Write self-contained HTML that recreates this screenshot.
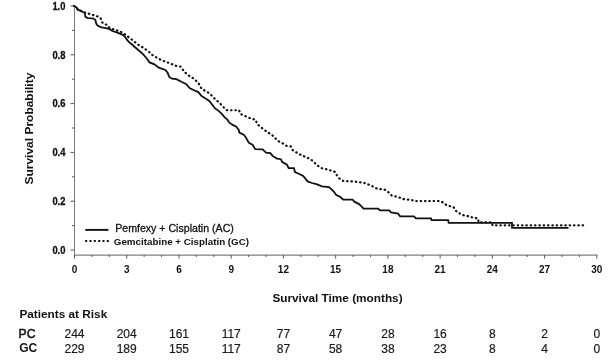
<!DOCTYPE html>
<html><head><meta charset="utf-8"><style>
html,body{margin:0;padding:0;background:#fff;width:614px;height:363px;overflow:hidden}
svg{display:block;will-change:transform;font-family:"Liberation Sans",sans-serif}
</style></head><body>
<svg width="614" height="363" viewBox="0 0 614 363">
<g stroke="#5a5a5a" stroke-width="1" fill="none">
<line x1="74.5" y1="6" x2="74.5" y2="258" stroke="#7a7a7a"/>
<line x1="74" y1="255.1" x2="597.5" y2="255.1" stroke="#606060"/>
<line x1="70.5" y1="250.00" x2="74.5" y2="250.00"/><line x1="72.0" y1="225.60" x2="74.5" y2="225.60"/><line x1="70.5" y1="201.20" x2="74.5" y2="201.20"/><line x1="72.0" y1="176.80" x2="74.5" y2="176.80"/><line x1="70.5" y1="152.40" x2="74.5" y2="152.40"/><line x1="72.0" y1="128.00" x2="74.5" y2="128.00"/><line x1="70.5" y1="103.60" x2="74.5" y2="103.60"/><line x1="72.0" y1="79.20" x2="74.5" y2="79.20"/><line x1="70.5" y1="54.80" x2="74.5" y2="54.80"/><line x1="72.0" y1="30.40" x2="74.5" y2="30.40"/><line x1="70.5" y1="6.00" x2="74.5" y2="6.00"/><line x1="74.50" y1="255" x2="74.50" y2="258.6"/><line x1="91.91" y1="255" x2="91.91" y2="257"/><line x1="109.32" y1="255" x2="109.32" y2="257"/><line x1="126.73" y1="255" x2="126.73" y2="258.6"/><line x1="144.14" y1="255" x2="144.14" y2="257"/><line x1="161.55" y1="255" x2="161.55" y2="257"/><line x1="178.96" y1="255" x2="178.96" y2="258.6"/><line x1="196.37" y1="255" x2="196.37" y2="257"/><line x1="213.78" y1="255" x2="213.78" y2="257"/><line x1="231.19" y1="255" x2="231.19" y2="258.6"/><line x1="248.60" y1="255" x2="248.60" y2="257"/><line x1="266.01" y1="255" x2="266.01" y2="257"/><line x1="283.42" y1="255" x2="283.42" y2="258.6"/><line x1="300.83" y1="255" x2="300.83" y2="257"/><line x1="318.24" y1="255" x2="318.24" y2="257"/><line x1="335.65" y1="255" x2="335.65" y2="258.6"/><line x1="353.06" y1="255" x2="353.06" y2="257"/><line x1="370.47" y1="255" x2="370.47" y2="257"/><line x1="387.88" y1="255" x2="387.88" y2="258.6"/><line x1="405.29" y1="255" x2="405.29" y2="257"/><line x1="422.70" y1="255" x2="422.70" y2="257"/><line x1="440.11" y1="255" x2="440.11" y2="258.6"/><line x1="457.52" y1="255" x2="457.52" y2="257"/><line x1="474.93" y1="255" x2="474.93" y2="257"/><line x1="492.34" y1="255" x2="492.34" y2="258.6"/><line x1="509.75" y1="255" x2="509.75" y2="257"/><line x1="527.16" y1="255" x2="527.16" y2="257"/><line x1="544.57" y1="255" x2="544.57" y2="258.6"/><line x1="561.98" y1="255" x2="561.98" y2="257"/><line x1="579.39" y1="255" x2="579.39" y2="257"/><line x1="596.80" y1="255" x2="596.80" y2="258.6"/>
</g>
<g fill="none" stroke="#111" stroke-linejoin="miter">
<path d="M74.0,5.9 L76.5,7.4 L77.9,9.9 L79.9,10.4 L82.9,11.9 L84.9,13.4 L85.4,16.8 L87.9,18.1 L92.8,18.3 L95.3,19.8 L96.3,23.8 L97.8,25.8 L101.7,27.3 L105.7,28.2 L109.7,29.2 L112.4,31.0 L115.9,32.1 L119.3,33.4 L122.7,34.8 L124.8,36.5 L126.2,38.6 L128.9,42.0 L132.4,44.8 L134.2,46.5 L138.6,50.3 L143.0,54.2 L146.3,58.0 L149.6,62.4 L154.4,64.4 L158.8,67.7 L165.4,69.9 L167.6,72.6 L169.3,77.0 L172.0,78.7 L176.4,79.2 L181.9,82.0 L186.3,84.2 L189.6,88.0 L194.0,90.2 L198.3,92.1 L201.6,96.0 L206.0,98.7 L209.3,100.9 L211.5,103.7 L214.8,108.1 L219.2,111.4 L222.0,114.1 L224.7,117.4 L227.2,119.4 L229.4,122.7 L232.7,124.9 L236.0,126.5 L238.8,129.8 L239.3,132.6 L243.7,134.8 L245.9,137.5 L248.1,141.4 L249.2,143.0 L252.5,144.7 L254.2,147.4 L255.3,149.2 L262.7,149.3 L266.0,152.6 L270.4,153.1 L272.6,155.9 L277.0,158.6 L280.9,159.2 L282.0,161.9 L286.9,164.7 L288.6,168.0 L293.9,168.2 L295.0,172.0 L298.8,173.7 L303.2,175.9 L305.4,178.6 L307.6,181.4 L312.0,183.0 L316.4,184.1 L321.9,186.3 L328.9,187.1 L331.6,189.3 L333.8,191.5 L336.0,194.8 L340.4,197.0 L343.2,199.7 L352.5,199.7 L354.7,201.9 L359.1,204.1 L362.4,207.4 L363.5,208.7 L378.1,208.7 L380.1,210.4 L389.1,210.4 L391.1,212.4 L398.0,213.5 L400.1,216.3 L413.9,216.3 L415.9,218.3 L431.0,218.3 L431.5,220.1 L448.2,220.1 L448.7,222.8 L512.0,222.8 L512.0,227.9 L568.5,227.9" stroke-width="1.8"/>
<path d="M74.0,5.9 L76.5,7.4 L77.9,9.9 L79.9,10.4 L82.9,11.9 L85.9,12.9 L89.3,13.9 L92.8,14.9 L95.8,15.9 L98.8,16.8 L100.7,18.3 L101.7,21.8 L103.7,23.8 L106.7,24.8 L107.7,26.3 L110.3,28.3 L116.2,30.3 L119.6,31.0 L125.5,34.8 L130.3,38.3 L132.7,40.3 L137.5,44.3 L143.0,47.6 L148.5,51.4 L151.9,54.7 L161.0,60.0 L169.8,63.3 L176.4,66.0 L180.8,66.6 L184.1,71.5 L188.5,75.4 L194.0,78.7 L198.5,83.1 L201.6,88.8 L209.3,93.2 L214.8,98.7 L220.3,103.7 L224.7,108.6 L226.9,110.2 L239.1,110.3 L240.4,113.9 L250.3,118.3 L255.8,119.9 L256.9,123.8 L263.5,129.3 L269.0,133.1 L271.5,134.4 L275.9,138.8 L278.1,141.0 L283.6,143.8 L286.9,146.0 L290.8,146.5 L292.4,149.8 L295.7,152.0 L301.0,155.0 L308.7,158.3 L313.1,161.0 L316.4,164.9 L321.9,168.2 L328.5,169.8 L335.2,172.0 L337.4,176.4 L339.3,178.3 L343.2,181.0 L354.7,181.6 L363.5,182.7 L370.5,185.3 L377.4,188.8 L384.3,189.4 L388.4,192.2 L391.8,195.6 L398.0,197.0 L403.5,199.1 L410.4,199.8 L415.9,201.1 L438.2,201.0 L441.5,201.6 L444.8,203.8 L447.0,205.4 L453.6,207.1 L455.3,210.4 L458.0,212.0 L461.3,214.8 L466.9,215.9 L471.3,217.0 L473.9,218.2 L477.8,218.2 L478.8,222.4 L492.0,222.4 L492.5,225.3 L585.5,225.3" stroke-width="2.2" stroke-linecap="round" stroke-dasharray="0.5 3.83"/>
</g>
<g fill="#111" font-weight="bold" font-size="10.4" stroke="#111" stroke-width="0.3">
<text transform="translate(65.4,253.7) scale(0.9,1)" text-anchor="end">0.0</text><text transform="translate(65.4,204.9) scale(0.9,1)" text-anchor="end">0.2</text><text transform="translate(65.4,156.1) scale(0.9,1)" text-anchor="end">0.4</text><text transform="translate(65.4,107.3) scale(0.9,1)" text-anchor="end">0.6</text><text transform="translate(65.4,58.5) scale(0.9,1)" text-anchor="end">0.8</text><text transform="translate(65.4,9.7) scale(0.9,1)" text-anchor="end">1.0</text>
</g>
<g fill="#111" font-weight="bold" font-size="10">
<text x="74.5" y="273" text-anchor="middle">0</text><text x="126.7" y="273" text-anchor="middle">3</text><text x="179.0" y="273" text-anchor="middle">6</text><text x="231.2" y="273" text-anchor="middle">9</text><text x="283.4" y="273" text-anchor="middle">12</text><text x="335.6" y="273" text-anchor="middle">15</text><text x="387.9" y="273" text-anchor="middle">18</text><text x="440.1" y="273" text-anchor="middle">21</text><text x="492.3" y="273" text-anchor="middle">24</text><text x="544.6" y="273" text-anchor="middle">27</text><text x="596.8" y="273" text-anchor="middle">30</text>
</g>
<text x="0" y="0" transform="translate(33.2,128.6) rotate(-90) scale(1.08,1)" text-anchor="middle" font-weight="bold" font-size="11.1" fill="#111">Survival Probability</text>
<text x="337.5" y="302.2" text-anchor="middle" font-weight="bold" font-size="11.8" fill="#111">Survival Time (months)</text>
<text x="19.4" y="317.8" font-weight="bold" font-size="11.8" fill="#111">Patients at Risk</text>
<text x="18.6" y="337.8" font-size="12.2" fill="#111" stroke="#111" stroke-width="0.5">PC</text>
<text x="19.2" y="352.2" font-weight="bold" font-size="12" fill="#111">GC</text>
<g fill="#1a1a1a" font-size="12" stroke="#1a1a1a" stroke-width="0.2">
<text x="74.5" y="337.8" text-anchor="middle">244</text><text x="74.5" y="352.8" text-anchor="middle">229</text><text x="126.7" y="337.8" text-anchor="middle">204</text><text x="126.7" y="352.8" text-anchor="middle">189</text><text x="179.0" y="337.8" text-anchor="middle">161</text><text x="179.0" y="352.8" text-anchor="middle">155</text><text x="231.2" y="337.8" text-anchor="middle">117</text><text x="231.2" y="352.8" text-anchor="middle">117</text><text x="283.4" y="337.8" text-anchor="middle">77</text><text x="283.4" y="352.8" text-anchor="middle">87</text><text x="335.6" y="337.8" text-anchor="middle">47</text><text x="335.6" y="352.8" text-anchor="middle">58</text><text x="387.9" y="337.8" text-anchor="middle">28</text><text x="387.9" y="352.8" text-anchor="middle">38</text><text x="440.1" y="337.8" text-anchor="middle">16</text><text x="440.1" y="352.8" text-anchor="middle">23</text><text x="492.3" y="337.8" text-anchor="middle">8</text><text x="492.3" y="352.8" text-anchor="middle">8</text><text x="544.6" y="337.8" text-anchor="middle">2</text><text x="544.6" y="352.8" text-anchor="middle">4</text><text x="596.8" y="337.8" text-anchor="middle">0</text><text x="596.8" y="352.8" text-anchor="middle">0</text>
</g>
<line x1="85.3" y1="229.9" x2="108.4" y2="229.9" stroke="#111" stroke-width="1.9"/>
<path d="M85.2,240h2v2h-2zM89.5,240h2v2h-2zM93.8,240h2v2h-2zM98.2,240h2v2h-2zM102.5,240h2v2h-2zM106.8,240h2v2h-2z" fill="#111"/>
<text x="115.2" y="231.5" font-size="10.6" fill="#111" stroke="#111" stroke-width="0.3">Pemfexy + Cisplatin (AC)</text>
<text x="113.8" y="245.1" font-size="9.8" font-weight="bold" fill="#111">Gemcitabine + Cisplatin (GC)</text>
</svg>
</body></html>
